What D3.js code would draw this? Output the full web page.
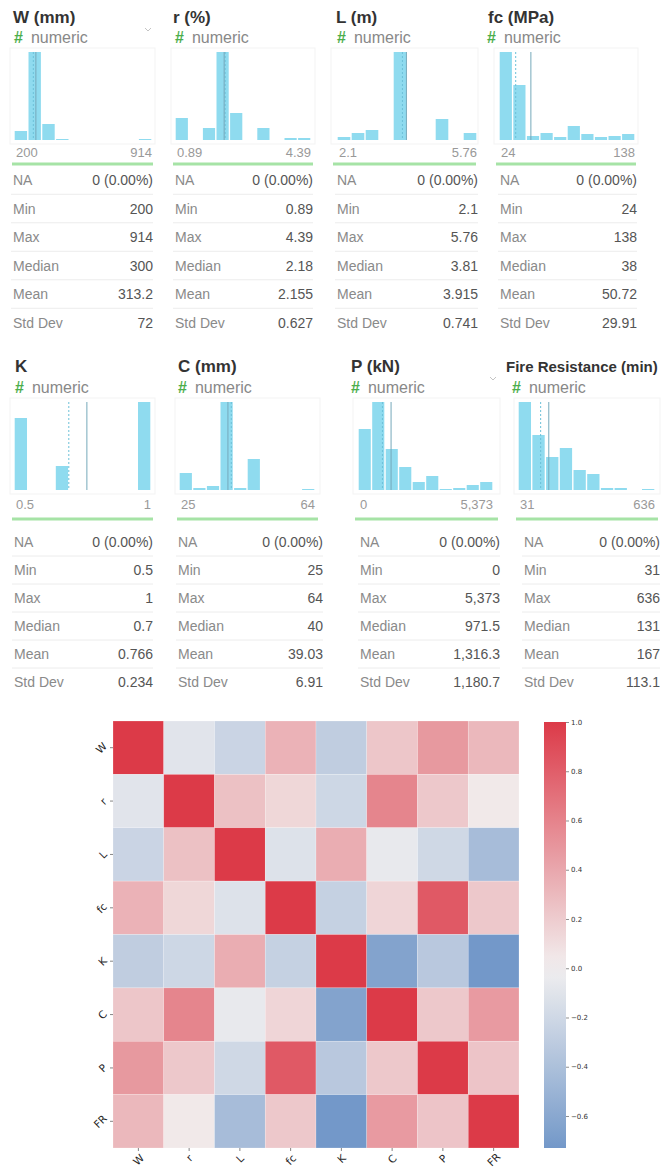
<!DOCTYPE html>
<html>
<head>
<meta charset="utf-8">
<script src="https://cdn.jsdelivr.net/npm/d3@7"></script>
<style>
  body { margin: 0; background: #fff; }
  svg { display: block; font-family: "Liberation Sans", Arial, sans-serif; }
</style>
</head>
<body>
<script>
// column summaries
const titles = ["W (mm)", "r (%)", "L (m)", "fc (MPa)", "K", "C (mm)", "P (kN)", "Fire Resistance (min)"];
const naCounts = [0, 0, 0, 0, 0, 0, 0, 0];
const mins = [200, 0.89, 2.1, 24, 0.5, 25, 0, 31];
const maxs = [914, 4.39, 5.76, 138, 1, 64, 5373, 636];
const medians = [300, 2.18, 3.81, 38, 0.7, 40, 971.5, 131];
const means = [313.2, 2.155, 3.915, 50.72, 0.766, 39.03, 1316.3, 167];
const stdDevs = [72, 0.627, 0.741, 29.91, 0.234, 6.91, 1180.7, 113.1];
const statLabels = ["NA", "Min", "Max", "Median", "Mean", "Std Dev"];
// histogram bin counts (10 bins per column)
const histCounts = [
  [9, 88, 16, 1, 0, 0, 0, 0, 0, 1],
  [22, 0, 12, 88, 27, 0, 12, 0, 2, 2],
  [3, 7, 10, 0, 88, 0, 0, 21, 0, 7],
  [88, 55, 4, 7, 3, 14, 6, 3, 4, 6],
  [72, 0, 0, 24, 0, 0, 0, 0, 0, 88],
  [17, 2, 4, 88, 2, 31, 0, 0, 0, 1],
  [61, 88, 41, 23, 8, 14, 1, 2, 5, 8],
  [88, 55, 33, 42, 20, 16, 2, 2, 0, 1]
];

// correlation matrix
const corrLabels = ["W", "r", "L", "fc", "K", "C", "P", "FR"];
const corr = [
  [1.00, -0.10, -0.23, 0.34, -0.29, 0.23, 0.48, 0.31],
  [-0.10, 1.00, 0.26, 0.14, -0.21, 0.59, 0.22, 0.04],
  [-0.23, 0.26, 1.00, -0.12, 0.37, -0.06, -0.20, -0.43],
  [0.34, 0.14, -0.12, 1.00, -0.26, 0.15, 0.83, 0.22],
  [-0.29, -0.21, 0.37, -0.26, 1.00, -0.64, -0.33, -0.73],
  [0.23, 0.59, -0.06, 0.15, -0.64, 1.00, 0.22, 0.47],
  [0.48, 0.22, -0.20, 0.83, -0.33, 0.22, 1.00, 0.24],
  [0.31, 0.04, -0.43, 0.22, -0.73, 0.47, 0.24, 1.00]
];
const cbTicks = [-0.6, -0.4, -0.2, 0.0, 0.2, 0.4, 0.6, 0.8, 1.0];

const width = 666;
const height = 1168;

const svg = d3.select("body").append("svg")
  .attr("width", width)
  .attr("height", height);

// card placement
const rows = [
  {title: 23, num: 43, top: 52, bot: 140, axis: 157, green: 164, na: 180, step: 28.5},
  {title: 372, num: 393, top: 402, bot: 490, axis: 509, green: 519, na: 542, step: 28}
];
const cardPos = [
  {tx: 13, hx: 14, h0: 14, h1: 152, g0: 12, g1: 153, t0: 13, t1: 153, chev: true},
  {tx: 173, hx: 175, h0: 175, h1: 311, g0: 173, g1: 313, t0: 175, t1: 313},
  {tx: 336, hx: 337, h0: 337, h1: 477, g0: 333, g1: 476, t0: 337, t1: 478},
  {tx: 488, hx: 487, h0: 499, h1: 635, g0: 496, g1: 636, t0: 500, t1: 637},
  {tx: 15, hx: 15, h0: 14, h1: 151, g0: 12, g1: 153, t0: 14, t1: 153},
  {tx: 178, hx: 178, h0: 179, h1: 315, g0: 177, g1: 318, t0: 178, t1: 323},
  {tx: 351, hx: 351, h0: 358, h1: 493, g0: 355, g1: 498, t0: 360, t1: 500, chev: true},
  {tx: 506, hx: 512, h0: 518, h1: 655, g0: 516, g1: 658, t0: 524, t1: 660}
];

const fmt = d3.format(",");
const pct = d3.format(".2%");

titles.forEach((title, i) => {
  const r = rows[i < 4 ? 0 : 1];
  const p = cardPos[i];
  const g = svg.append("g");

  // faint card frame
  g.append("rect")
    .attr("x", p.g0 - 2).attr("y", r.top - 4)
    .attr("width", p.g1 - p.g0 + 4).attr("height", r.bot - r.top + 8)
    .attr("fill", "none").attr("stroke", "#f3f3f3");

  g.append("text")
    .attr("x", p.tx).attr("y", r.title)
    .attr("font-size", i === 7 ? 15 : 17)
    .attr("font-weight", "bold")
    .attr("fill", "#333")
    .text(title);

  const sub = g.append("text")
    .attr("x", p.hx).attr("y", r.num)
    .attr("font-size", 16);
  sub.append("tspan").attr("fill", "#4cae4c").attr("font-weight", "bold").text("#");
  sub.append("tspan").attr("fill", "#888").attr("dx", 8).text("numeric");

  if (p.chev) {
    g.append("path")
      .attr("d", `M${p.g1 - 8},${r.title + 5}l3,3l3,-3`)
      .attr("fill", "none").attr("stroke", "#c4c4c4").attr("stroke-width", 1);
  }

  // histogram
  const counts = histCounts[i];
  const x = d3.scaleLinear().domain([mins[i], maxs[i]]).range([p.h0, p.h1]);
  const y = d3.scaleLinear().domain([0, d3.max(counts)]).range([r.bot, r.top]);
  const binW = (maxs[i] - mins[i]) / counts.length;

  g.append("g").selectAll("rect")
    .data(counts)
    .join("rect")
    .attr("x", (d, k) => x(mins[i] + k * binW) + 0.7)
    .attr("y", d => y(d))
    .attr("width", (d, k) => x(mins[i] + (k + 1) * binW) - x(mins[i] + k * binW) - 1.4)
    .attr("height", d => r.bot - y(d))
    .attr("fill", "#8fdbef");

  g.append("line")
    .attr("x1", x(medians[i])).attr("x2", x(medians[i]))
    .attr("y1", r.top).attr("y2", r.bot)
    .attr("stroke", "#6cc0d8").attr("stroke-width", 1)
    .attr("stroke-dasharray", "2,2");
  g.append("line")
    .attr("x1", x(means[i])).attr("x2", x(means[i]))
    .attr("y1", r.top).attr("y2", r.bot)
    .attr("stroke", "#76a9bb").attr("stroke-width", 1);

  g.append("text")
    .attr("x", p.h0 + 2).attr("y", r.axis)
    .attr("font-size", 13).attr("fill", "#999")
    .text(fmt(mins[i]));
  g.append("text")
    .attr("x", p.h1).attr("y", r.axis)
    .attr("text-anchor", "end")
    .attr("font-size", 13).attr("fill", "#999")
    .text(fmt(maxs[i]));

  g.append("line")
    .attr("x1", p.g0).attr("x2", p.g1)
    .attr("y1", r.green).attr("y2", r.green)
    .attr("stroke", "#a6e3a6").attr("stroke-width", 3);

  // stats table
  const vals = [
    `${naCounts[i]} (${pct(naCounts[i])})`,
    fmt(mins[i]), fmt(maxs[i]), fmt(medians[i]), fmt(means[i]), fmt(stdDevs[i])
  ];
  statLabels.forEach((lab, k) => {
    const cy = r.na + k * r.step;
    g.append("text")
      .attr("x", p.t0).attr("y", cy + 5)
      .attr("font-size", 14).attr("fill", "#8a8a8a")
      .text(lab);
    g.append("text")
      .attr("x", p.t1).attr("y", cy + 5)
      .attr("text-anchor", "end")
      .attr("font-size", 14).attr("fill", "#555")
      .text(vals[k]);
    if (k < statLabels.length - 1) {
      g.append("line")
        .attr("x1", p.t0 - 2).attr("x2", p.t1)
        .attr("y1", cy + r.step / 2).attr("y2", cy + r.step / 2)
        .attr("stroke", "#ececec");
    }
  });
});

// heatmap
const hm = {x0: 113, x1: 519, y0: 721, y1: 1148};
const hx = d3.scaleBand().domain(corrLabels).range([hm.x0, hm.x1]);
const hy = d3.scaleBand().domain(corrLabels).range([hm.y0, hm.y1]);
const vmin = d3.min(corr.flat());
const color = d3.scaleLinear()
  .domain([-1, 0, 1])
  .range(["#4478ba", "#f2f0f0", "#dc3a48"])
  .interpolate(d3.interpolateRgb);

const cells = [];
corr.forEach((row, a) => row.forEach((v, b) => cells.push({row: corrLabels[a], col: corrLabels[b], v})));

svg.append("g").selectAll("rect")
  .data(cells)
  .join("rect")
  .attr("x", d => hx(d.col))
  .attr("y", d => hy(d.row))
  .attr("width", hx.bandwidth())
  .attr("height", hy.bandwidth())
  .attr("fill", d => color(d.v))
  .attr("stroke", "rgba(255,255,255,0.35)")
  .attr("stroke-width", 0.6);

const lblFont = "DejaVu Sans, sans-serif";
const tick = 3, pad = 2.5;

// y tick marks and rotated labels
const yAx = svg.append("g");
corrLabels.forEach(l => {
  const cy = hy(l) + hy.bandwidth() / 2;
  yAx.append("line")
    .attr("x1", hm.x0 - tick).attr("x2", hm.x0)
    .attr("y1", cy).attr("y2", cy)
    .attr("stroke", "#666").attr("stroke-width", 0.8);
  const t = yAx.append("text")
    .attr("font-family", lblFont).attr("font-size", 10.5).attr("fill", "#262626")
    .attr("text-anchor", "middle").attr("dominant-baseline", "central")
    .text(l);
  const w = t.node().getComputedTextLength();
  const bw = (w + 7.5) * Math.SQRT1_2;
  const cx = hm.x0 - tick - pad - bw / 2;
  t.attr("x", cx).attr("y", cy).attr("transform", `rotate(-45,${cx},${cy})`);
});

// x tick marks and rotated labels
const xAx = svg.append("g");
corrLabels.forEach(l => {
  const cx = hx(l) + hx.bandwidth() / 2;
  xAx.append("line")
    .attr("x1", cx).attr("x2", cx)
    .attr("y1", hm.y1).attr("y2", hm.y1 + tick)
    .attr("stroke", "#666").attr("stroke-width", 0.8);
  const t = xAx.append("text")
    .attr("font-family", lblFont).attr("font-size", 10.5).attr("fill", "#262626")
    .attr("text-anchor", "middle").attr("dominant-baseline", "central")
    .text(l);
  const w = t.node().getComputedTextLength();
  const bh = Math.min((w + 7.5) * Math.SQRT1_2, 12);
  const cy = hm.y1 + tick + pad + bh / 2;
  t.attr("x", cx).attr("y", cy).attr("transform", `rotate(-45,${cx},${cy})`);
});

// colorbar
const cb = {x: 544, w: 22, y0: 722, y1: 1148};
const cy = d3.scaleLinear().domain([vmin, 1]).range([cb.y1, cb.y0]);
const grad = svg.append("defs").append("linearGradient")
  .attr("id", "cbgrad")
  .attr("x1", 0).attr("x2", 0).attr("y1", 1).attr("y2", 0);
d3.range(0, 1.0001, 0.05).forEach(t => {
  grad.append("stop")
    .attr("offset", t)
    .attr("stop-color", color(vmin + t * (1 - vmin)));
});
svg.append("rect")
  .attr("x", cb.x).attr("y", cb.y0)
  .attr("width", cb.w).attr("height", cb.y1 - cb.y0)
  .attr("fill", "url(#cbgrad)");

const cbAxis = svg.append("g")
  .attr("transform", `translate(${cb.x + cb.w},0)`)
  .call(d3.axisRight(cy).tickValues(cbTicks).tickFormat(d3.format(".1f")).tickSize(3).tickPadding(2));
cbAxis.select(".domain").remove();
cbAxis.selectAll("line").attr("stroke", "#444").attr("stroke-width", 0.6);
cbAxis.selectAll("text")
  .attr("font-family", lblFont).attr("font-size", 7).attr("fill", "#333");
</script>
</body>
</html>
